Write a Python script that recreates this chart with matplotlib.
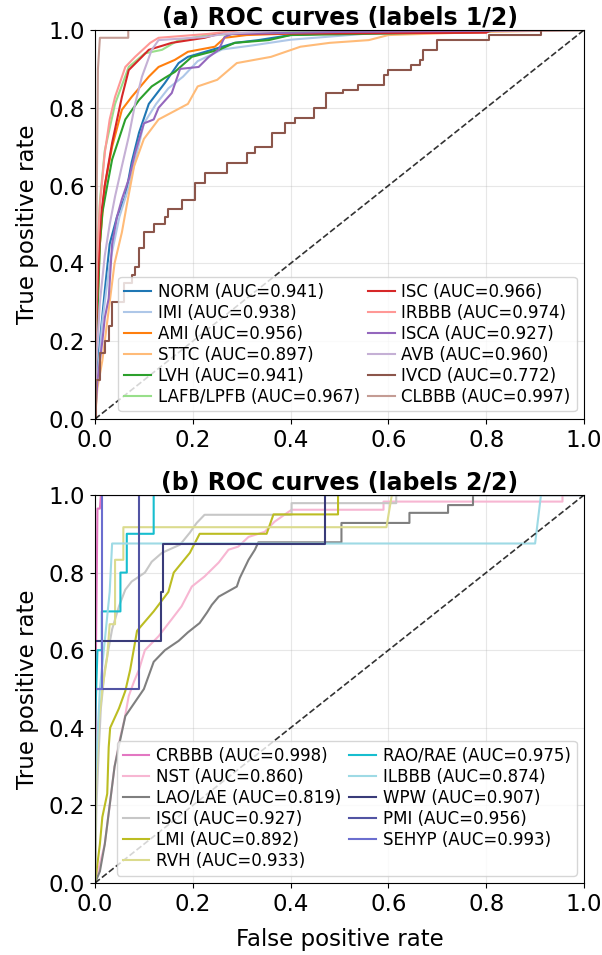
import matplotlib
matplotlib.use("Agg")
import matplotlib.pyplot as plt

# ---------------- Panel (a) data ----------------
labels_a = ["NORM", "IMI", "AMI", "STTC", "LVH", "LAFB/LPFB",
            "ISC", "IRBBB", "ISCA", "AVB", "IVCD", "CLBBB"]
auc_a = [0.941, 0.938, 0.956, 0.897, 0.941, 0.967,
         0.966, 0.974, 0.927, 0.960, 0.772, 0.997]

norm_fpr = [0, 0.003, 0.01, 0.02, 0.03, 0.045, 0.062, 0.075, 0.09, 0.11, 0.143, 0.171, 0.19, 0.239, 0.286, 0.334, 0.4, 0.6, 1]
norm_tpr = [0, 0.10, 0.20, 0.33, 0.45, 0.52, 0.572, 0.66, 0.736, 0.81, 0.864, 0.915, 0.931, 0.949, 0.967, 0.974, 0.987, 0.997, 1]

imi_fpr = [0, 0.005, 0.015, 0.03, 0.05, 0.07, 0.085, 0.1, 0.125, 0.15, 0.18, 0.21, 0.26, 0.32, 0.4, 0.55, 0.7, 1]
imi_tpr = [0, 0.10, 0.25, 0.40, 0.52, 0.60, 0.68, 0.76, 0.81, 0.85, 0.88, 0.92, 0.95, 0.96, 0.975, 0.99, 0.995, 1]

ami_fpr = [0, 0.002, 0.005, 0.01, 0.02, 0.035, 0.055, 0.075, 0.11, 0.13, 0.163, 0.19, 0.245, 0.265, 0.31, 0.5, 0.6, 1]
ami_tpr = [0, 0.15, 0.30, 0.45, 0.60, 0.70, 0.795, 0.828, 0.88, 0.905, 0.923, 0.944, 0.957, 0.98, 0.987, 0.995, 1, 1]

sttc_fpr = [0, 0.005, 0.015, 0.03, 0.04, 0.055, 0.065, 0.08, 0.1, 0.13, 0.19, 0.21, 0.25, 0.29, 0.36, 0.42, 0.48, 0.56, 0.6, 0.8, 1]
sttc_tpr = [0, 0.08, 0.15, 0.30, 0.40, 0.48, 0.55, 0.65, 0.72, 0.77, 0.81, 0.855, 0.872, 0.915, 0.931, 0.957, 0.967, 0.974, 0.987, 0.995, 1]

lvh_fpr = [0, 0.002, 0.006, 0.01, 0.015, 0.025, 0.035, 0.062, 0.09, 0.116, 0.143, 0.163, 0.198, 0.253, 0.286, 0.355, 0.4, 0.8, 0.82, 1]
lvh_tpr = [0, 0.15, 0.30, 0.45, 0.53, 0.60, 0.667, 0.77, 0.82, 0.855, 0.877, 0.892, 0.931, 0.949, 0.967, 0.974, 0.987, 0.995, 1, 1]

lafb_fpr = [0, 0.001, 0.004, 0.01, 0.02, 0.041, 0.069, 0.102, 0.137, 0.171, 0.232, 0.4, 0.5, 1]
lafb_tpr = [0, 0.20, 0.40, 0.56, 0.69, 0.81, 0.905, 0.94, 0.949, 0.974, 0.987, 0.995, 1, 1]

isc_fpr = [0, 0.001, 0.004, 0.008, 0.012, 0.02, 0.035, 0.055, 0.069, 0.096, 0.11, 0.157, 0.224, 0.253, 0.8, 0.81, 1]
isc_tpr = [0, 0.15, 0.30, 0.42, 0.52, 0.60, 0.71, 0.828, 0.897, 0.931, 0.949, 0.967, 0.98, 0.99, 0.993, 1, 1]

irbbb_fpr = [0, 0.001, 0.004, 0.01, 0.02, 0.03, 0.041, 0.062, 0.082, 0.113, 0.13, 0.232, 0.3, 1]
irbbb_tpr = [0, 0.20, 0.40, 0.55, 0.684, 0.77, 0.828, 0.905, 0.931, 0.967, 0.98, 0.99, 1, 1]

isca_fpr = [0, 0.005, 0.015, 0.02, 0.028, 0.035, 0.045, 0.055, 0.07, 0.082, 0.1, 0.12, 0.13, 0.157, 0.174, 0.212, 0.232, 0.253, 0.265, 0.28, 0.5, 1]
isca_tpr = [0, 0.10, 0.20, 0.26, 0.31, 0.45, 0.52, 0.565, 0.62, 0.684, 0.76, 0.77, 0.80, 0.838, 0.90, 0.905, 0.93, 0.949, 0.982, 0.99, 0.995, 1]

avb_fpr = [0, 0.003, 0.01, 0.02, 0.03, 0.041, 0.055, 0.069, 0.082, 0.096, 0.116, 0.13, 0.224, 0.265, 0.4, 1]
avb_tpr = [0, 0.15, 0.30, 0.42, 0.50, 0.572, 0.65, 0.726, 0.81, 0.88, 0.949, 0.974, 0.982, 0.99, 1, 1]

ivcd_fpr = [0, 0.003, 0.01, 0.02, 0.028, 0.035, 0.06, 0.075, 0.082, 0.09, 0.10, 0.12, 0.143, 0.15, 0.178,
            0.204, 0.224, 0.27, 0.31, 0.327, 0.361, 0.388, 0.408, 0.447, 0.473, 0.507, 0.538, 0.59, 0.60,
            0.647, 0.664, 0.671, 0.70, 0.806, 0.912, 1.0]
ivcd_tpr = [0, 0.10, 0.17, 0.20, 0.24, 0.30, 0.35, 0.37, 0.39, 0.44, 0.48, 0.50, 0.518, 0.54, 0.564,
            0.607, 0.633, 0.659, 0.684, 0.70, 0.736, 0.76, 0.774, 0.80, 0.838, 0.846, 0.859, 0.885, 0.897,
            0.91, 0.923, 0.949, 0.974, 0.987, 1.0, 1.0]

clbbb_fpr = [0, 0.003, 0.006, 0.01, 0.068, 0.068, 1]
clbbb_tpr = [0, 0.50, 0.90, 0.98, 0.98, 1, 1]

# ---------------- Panel (b) data ----------------
labels_b = ["CRBBB", "NST", "LAO/LAE", "ISCI", "LMI", "RVH",
            "RAO/RAE", "ILBBB", "WPW", "PMI", "SEHYP"]
auc_b = [0.998, 0.860, 0.819, 0.927, 0.892, 0.933,
         0.975, 0.874, 0.907, 0.956, 0.993]

crbbb_fpr = [0, 0.002, 0.005, 0.01, 0.012, 1]
crbbb_tpr = [0, 0.60, 0.965, 0.965, 1, 1]

nst_fpr = [0, 0.01, 0.02, 0.03, 0.04, 0.051, 0.06, 0.069, 0.08, 0.09, 0.102, 0.13, 0.157, 0.177, 0.198,
           0.224, 0.253, 0.273, 0.293, 0.314, 0.347, 0.367, 0.402, 0.59, 0.59, 0.956, 0.956, 1]
nst_tpr = [0, 0.05, 0.10, 0.20, 0.30, 0.372, 0.42, 0.482, 0.52, 0.55, 0.60, 0.636, 0.68, 0.713, 0.764,
           0.79, 0.826, 0.859, 0.867, 0.892, 0.905, 0.931, 0.962, 0.962, 0.983, 0.983, 1, 1]

lao_fpr = [0, 0.01, 0.02, 0.03, 0.04, 0.05, 0.062, 0.10, 0.12, 0.143, 0.171, 0.19, 0.214, 0.229, 0.239,
           0.253, 0.29, 0.296, 0.314, 0.327, 0.334, 0.504, 0.504, 0.643, 0.643, 0.722, 0.722, 0.773, 0.773, 1]
lao_tpr = [0, 0.03, 0.10, 0.20, 0.30, 0.36, 0.43, 0.50, 0.57, 0.60, 0.624, 0.646, 0.67, 0.697, 0.717,
           0.738, 0.764, 0.786, 0.833, 0.859, 0.878, 0.878, 0.928, 0.928, 0.954, 0.954, 0.974, 0.974, 1, 1]

isci_fpr = [0, 0.003, 0.008, 0.012, 0.02, 0.035, 0.049, 0.062, 0.075, 0.102, 0.116, 0.137, 0.174, 0.194,
            0.208, 0.224, 0.402, 0.402, 0.616, 0.616, 1]
isci_tpr = [0, 0.20, 0.35, 0.45, 0.55, 0.654, 0.713, 0.756, 0.777, 0.80, 0.828, 0.851, 0.872, 0.903,
            0.928, 0.949, 0.949, 0.979, 0.979, 1, 1]

lmi_fpr = [0, 0.005, 0.01, 0.015, 0.025, 0.028, 0.031, 0.049, 0.062, 0.072, 0.086, 0.12, 0.15, 0.161,
           0.194, 0.214, 0.351, 0.365, 0.497, 0.497, 1]
lmi_tpr = [0, 0.05, 0.10, 0.17, 0.23, 0.35, 0.40, 0.45, 0.495, 0.55, 0.65, 0.70, 0.75, 0.80,
           0.851, 0.90, 0.90, 0.95, 0.95, 1, 1]

rvh_fpr = [0, 0.002, 0.008, 0.015, 0.025, 0.03, 0.041, 0.041, 0.058, 0.058, 0.596, 0.607, 1]
rvh_tpr = [0, 0.25, 0.417, 0.50, 0.583, 0.667, 0.667, 0.833, 0.833, 0.917, 0.917, 1, 1]

rao_fpr = [0, 0.0, 0.005, 0.014, 0.014, 0.052, 0.052, 0.065, 0.065, 0.12, 0.12, 1]
rao_tpr = [0, 0.40, 0.60, 0.60, 0.70, 0.70, 0.80, 0.80, 0.90, 0.90, 1, 1]

ilbbb_fpr = [0, 0.0, 0.005, 0.01, 0.02, 0.03, 0.035, 0.90, 0.912, 1]
ilbbb_tpr = [0, 0.25, 0.375, 0.50, 0.625, 0.75, 0.875, 0.875, 1, 1]

wpw_fpr = [0, 0.0, 0.135, 0.135, 0.14, 0.14, 0.47, 0.47, 1]
wpw_tpr = [0, 0.625, 0.625, 0.75, 0.75, 0.875, 0.875, 1, 1]

pmi_fpr = [0, 0.0, 0.089, 0.089, 1]
pmi_tpr = [0, 0.50, 0.50, 1, 1]

sehyp_fpr = [0, 0.0, 0.015, 0.015, 1]
sehyp_tpr = [0, 0.50, 0.50, 1, 1]

curves_a = [(norm_fpr, norm_tpr), (imi_fpr, imi_tpr), (ami_fpr, ami_tpr), (sttc_fpr, sttc_tpr),
            (lvh_fpr, lvh_tpr), (lafb_fpr, lafb_tpr), (isc_fpr, isc_tpr), (irbbb_fpr, irbbb_tpr),
            (isca_fpr, isca_tpr), (avb_fpr, avb_tpr), (ivcd_fpr, ivcd_tpr), (clbbb_fpr, clbbb_tpr)]
curves_b = [(crbbb_fpr, crbbb_tpr), (nst_fpr, nst_tpr), (lao_fpr, lao_tpr), (isci_fpr, isci_tpr),
            (lmi_fpr, lmi_tpr), (rvh_fpr, rvh_tpr), (rao_fpr, rao_tpr), (ilbbb_fpr, ilbbb_tpr),
            (wpw_fpr, wpw_tpr), (pmi_fpr, pmi_tpr), (sehyp_fpr, sehyp_tpr)]

tab20 = plt.get_cmap("tab20").colors
tab20b = plt.get_cmap("tab20b").colors
palette = list(tab20) + list(tab20b)

fig = plt.figure(figsize=(6.02, 9.55), dpi=100)
ax1 = fig.add_axes([95 / 602, 1 - 419 / 955, 489 / 602, 389 / 955])
ax2 = fig.add_axes([95 / 602, 1 - 883 / 955, 489 / 602, 388 / 955])


def draw(ax, labels, aucs, curves, offset, title, xlabel):
    for i, (lab, auc, (fx, ty)) in enumerate(zip(labels, aucs, curves)):
        ds = "steps-post" if lab == "IVCD" else "default"
        ax.plot(fx, ty, color=palette[offset + i], lw=1.5, drawstyle=ds,
                label=f"{lab} (AUC={auc:.3f})")
    ax.plot([0, 1], [0, 1], "k--", lw=1.2, alpha=0.8)
    ax.set_xlim(0, 1)
    ax.set_ylim(0, 1)
    ax.grid(True, alpha=0.3)
    ax.tick_params(labelsize=16.5)
    ax.set_ylabel("True positive rate", fontsize=16.5, labelpad=7)
    if xlabel:
        ax.set_xlabel("False positive rate", fontsize=16.5, labelpad=9)
    ax.set_title(title, fontsize=17, fontweight="bold", pad=0.5)
    ax.legend(loc="lower right", ncol=2, fontsize=12.0, handlelength=1.6,
              columnspacing=0.5, labelspacing=0.18, handletextpad=0.4,
              borderaxespad=0.45, borderpad=0.35)


draw(ax1, labels_a, auc_a, curves_a, 0, "(a) ROC curves (labels 1/2)", False)
draw(ax2, labels_b, auc_b, curves_b, 12, "(b) ROC curves (labels 2/2)", True)

fig.savefig("out.png", dpi=100)
